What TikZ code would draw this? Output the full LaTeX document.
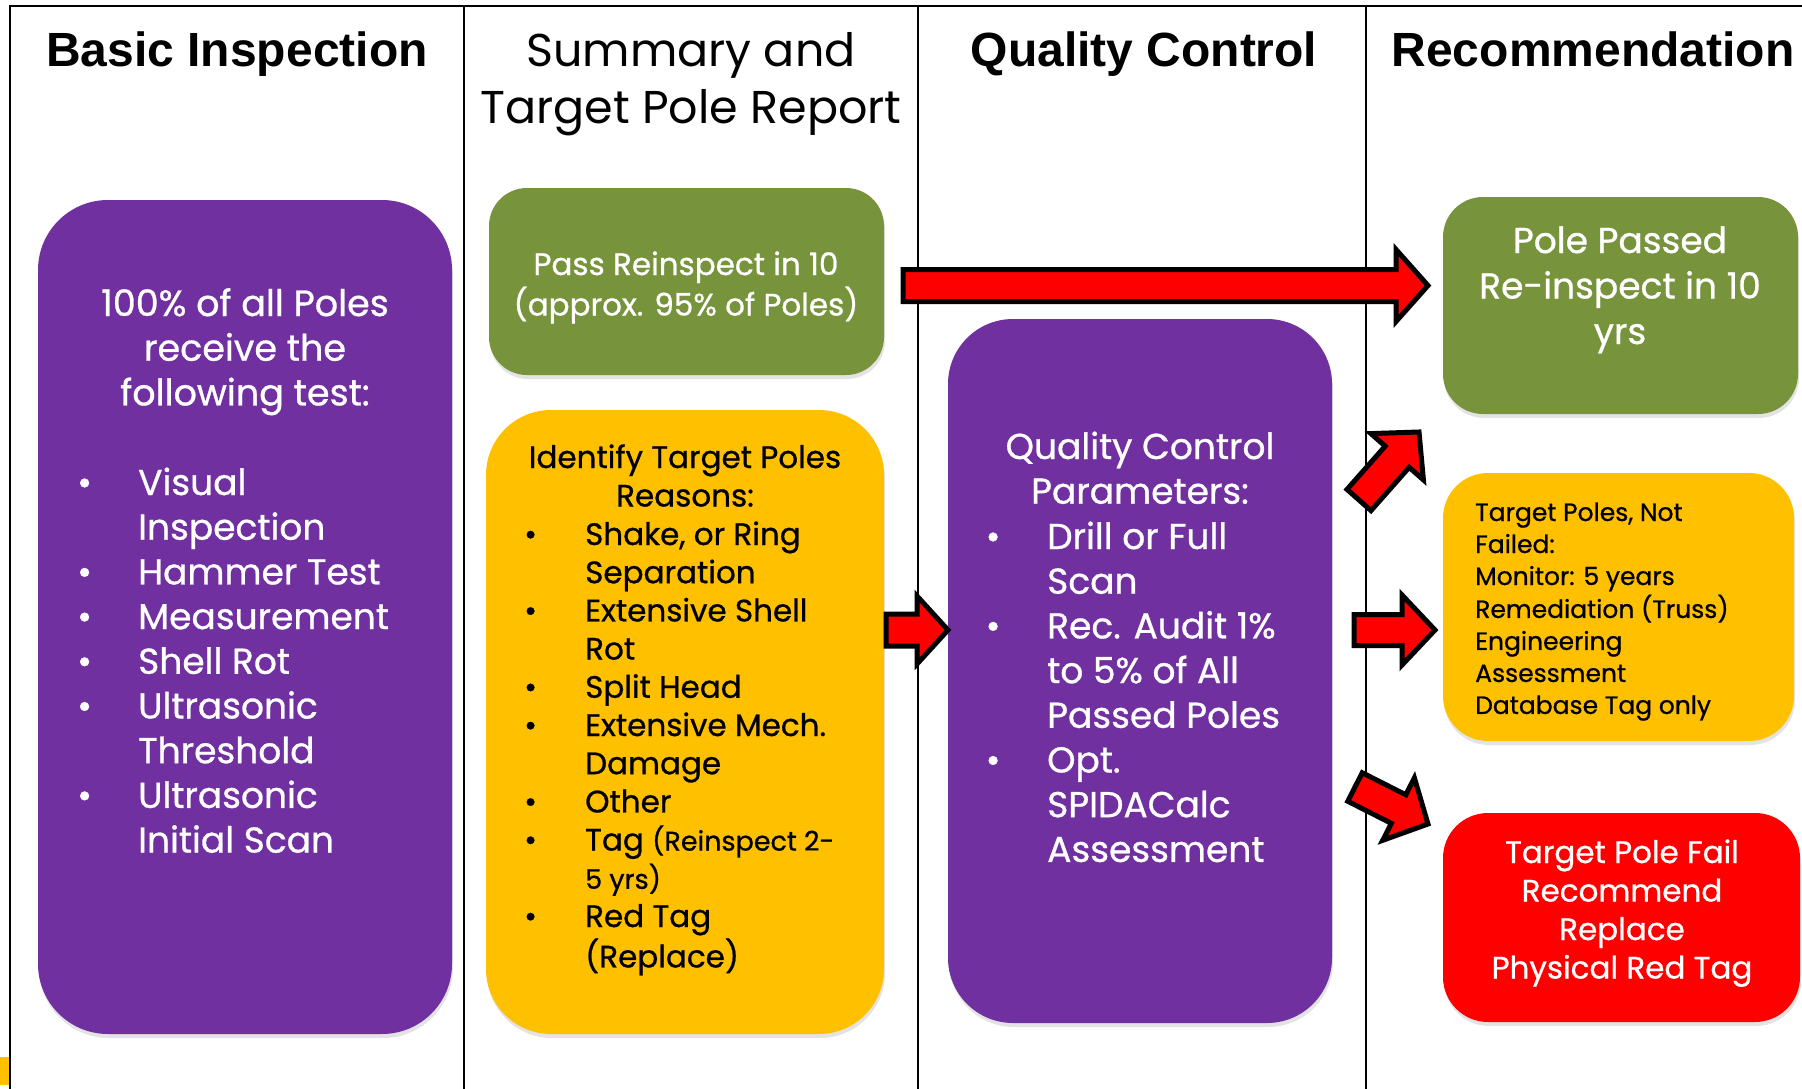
\documentclass[tikz,border=0pt]{standalone}
\usepackage{fontspec}
\setmainfont{Poppins}
\newfontfamily\bodyfont{Poppins}[FakeBold=0.8]
\newfontfamily\hdrfont{Liberation Sans}
\usetikzlibrary{calc,shadows}
\definecolor{ppurple}{HTML}{7030A0}
\definecolor{pgreen}{HTML}{77933C}
\definecolor{pyellow}{HTML}{FFC000}
\definecolor{pred}{HTML}{FF0000}
\tikzset{
  frame/.style={draw=black, line width=2pt},
  pbox/.style={rounded corners=#1, inner sep=0pt, drop shadow={opacity=0.22, shadow xshift=1pt, shadow yshift=-4pt}},
  hdrb/.style={font=\hdrfont\bfseries\fontsize{48}{56}\selectfont, inner sep=0pt, anchor=base},
  hdrr/.style={font=\fontsize{46}{57}\selectfont, inner sep=0pt, anchor=base},
  txt/.style={inner sep=0pt, anchor=base},
  txtw/.style={inner sep=0pt, anchor=base west},
  blockarr/.style={fill=pred, draw=black, line width=5pt, line join=miter},
}
\newcommand{\blockarrow}[5]{%
  \coordinate (bah) at ($(#2)!#5!(#1)$);
  \draw[blockarr] ($(#1)!#3!90:(#2)$) -- ($(bah)!#3!90:(#2)$) -- ($(bah)!#4!90:(#2)$) -- (#2)
    -- ($(bah)!#4!-90:(#2)$) -- ($(bah)!#3!-90:(#2)$) -- ($(#1)!#3!-90:(#2)$) -- cycle;
}
\begin{document}
\begin{tikzpicture}[x=1pt,y=-1pt]
\useasboundingbox (0,0) rectangle (1802,1089);
\fill[white] (0,0) rectangle (1802,1089);
% frame lines
\draw[frame] (10,1089) -- (10,6) -- (1802,6);
\draw[frame] (464,6) -- (464,1089);
\draw[frame] (918,6) -- (918,1089);
\draw[frame] (1366,6) -- (1366,1089);
\fill[pyellow] (0,1057) rectangle (9,1085);
% headers
\node[hdrb] (h1) at (237,67) {Basic Inspection};
\node[hdrr] (h2) at (691,67) {\begin{tabular}[t]{@{}c@{}}Summary and\\Target Pole Report\end{tabular}};
\node[hdrb] (h3) at (1144,67) {Quality Control};
\node[hdrb] (h4) at (1593,67) {Recommendation};
% boxes
\node[pbox=70pt, fill=ppurple, minimum width=414pt, minimum height=834pt] (b1) at (245,617) {};
\node[pbox=38pt, fill=pgreen, minimum width=395pt, minimum height=187pt] (b2) at (686.5,281.5) {};
\node[pbox=65pt, fill=pyellow, minimum width=398pt, minimum height=624pt] (b3) at (685,722) {};
\node[pbox=65pt, fill=ppurple, minimum width=384pt, minimum height=704pt] (b4) at (1140,671) {};
\node[pbox=40pt, fill=pgreen, minimum width=355pt, minimum height=217pt] (b5) at (1620.5,305.5) {};
\node[pbox=45pt, fill=pyellow, minimum width=351pt, minimum height=268pt] (b6) at (1618.5,607) {};
\node[pbox=45pt, fill=pred, minimum width=357pt, minimum height=209pt] (b7) at (1621.5,917.5) {};
% texts box 1
\node[txt, text=white, font=\bodyfont\fontsize{36.5}{44.7}\selectfont] (t1a) at (245,316)
  {\begin{tabular}[t]{@{}c@{}}100\% of all Poles\\receive the\\following test:\end{tabular}};
\node[txtw, text=white, font=\bodyfont\fontsize{36}{44.7}\selectfont] (t1b) at (77,495)
  {\begin{tabular}[t]{@{}p{61pt}@{}l@{}}
  \textbullet & Visual\\ & Inspection\\
  \textbullet & Hammer Test\\
  \textbullet & Measurement\\
  \textbullet & Shell Rot\\
  \textbullet & Ultrasonic\\ & Threshold\\
  \textbullet & Ultrasonic\\ & Initial Scan
  \end{tabular}};
% box 2
\node[txt, text=white, font=\bodyfont\fontsize{31}{38.5}\selectfont] (t2) at (686,275)
  {\begin{tabular}[t]{@{}c@{}}Pass Reinspect in 10\\(approx. 95\% of Poles)\end{tabular}};
% box 3
\node[txt, text=black, font=\bodyfont\fontsize{31}{38.5}\selectfont] (t3a) at (685,468)
  {\begin{tabular}[t]{@{}c@{}}Identify Target Poles\\Reasons:\end{tabular}};
\node[txtw, text=black, font=\bodyfont\fontsize{31}{38.2}\selectfont] (t3b) at (524,545)
  {\begin{tabular}[t]{@{}p{61pt}@{}l@{}}
  \textbullet & Shake, or Ring\\ & Separation\\
  \textbullet & Extensive Shell\\ & Rot\\
  \textbullet & Split Head\\
  \textbullet & Extensive Mech.\\ & Damage\\
  \textbullet & Other\\
  \textbullet & Tag {\fontsize{27}{30}\selectfont(Reinspect 2-}\\ & {\fontsize{27}{30}\selectfont 5 yrs)}\\
  \textbullet & Red Tag\\ & (Replace)
  \end{tabular}};
% box 4
\node[txt, text=white, font=\bodyfont\fontsize{36}{44.7}\selectfont] (t4a) at (1140,459)
  {\begin{tabular}[t]{@{}c@{}}Quality Control\\Parameters:\end{tabular}};
\node[txtw, text=white, font=\bodyfont\fontsize{36}{44.7}\selectfont] (t4b) at (985.5,549)
  {\begin{tabular}[t]{@{}p{61.5pt}@{}l@{}}
  \textbullet & Drill or Full\\ & Scan\\
  \textbullet & Rec. Audit 1\%\\ & to 5\% of All\\ & Passed Poles\\
  \textbullet & Opt.\\ & SPIDACalc\\ & Assessment
  \end{tabular}};
% box 5
\node[txt, text=white, font=\bodyfont\fontsize{36}{45.5}\selectfont] (t5) at (1620,253)
  {\begin{tabular}[t]{@{}c@{}}Pole Passed\\Re-inspect in 10\\yrs\end{tabular}};
% box 6
\node[txtw, text=black, font=\bodyfont\fontsize{25}{32}\selectfont] (t6) at (1475,521)
  {\begin{tabular}[t]{@{}l@{}}Target Poles, Not\\Failed:\\Monitor: 5 years\\Remediation (Truss)\\Engineering\\Assessment\\Database Tag only\end{tabular}};
% box 7
\node[txt, text=white, font=\bodyfont\fontsize{31}{38.5}\selectfont] (t7) at (1622,863)
  {\begin{tabular}[t]{@{}c@{}}Target Pole Fail\\Recommend\\Replace\\Physical Red Tag\end{tabular}};
% arrows
\coordinate (aAt) at (903,285.5);  \coordinate (aAh) at (1428,285.5);
\coordinate (aBt) at (886,630);    \coordinate (aBh) at (948,630);
\coordinate (aCt) at (1354,630);   \coordinate (aCh) at (1435,630);
\coordinate (aDt) at (1359,500);   \coordinate (aDh) at (1419,432);
\coordinate (aEt) at (1355,787);   \coordinate (aEh) at (1428,824);
\blockarrow{aAt}{aAh}{16pt}{36pt}{32pt}
\blockarrow{aBt}{aBh}{16pt}{34pt}{31pt}
\blockarrow{aCt}{aCh}{15.5pt}{35pt}{33pt}
\blockarrow{aDt}{aDh}{16pt}{35pt}{33pt}
\blockarrow{aEt}{aEh}{16pt}{35pt}{33pt}
\end{tikzpicture}
\end{document}
